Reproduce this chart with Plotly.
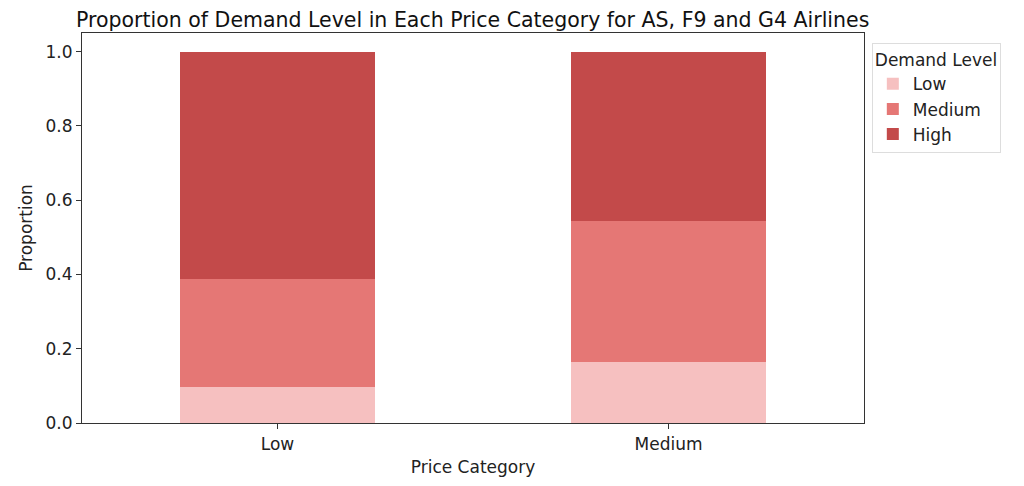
import plotly.graph_objs as go

# Proportion of each demand level within each price category
price_categories = ["Low", "Medium"]
demand_levels = ["Low", "Medium", "High"]
prop_low = [0.097, 0.164]
prop_medium = [0.292, 0.380]
prop_high = [0.611, 0.456]

colors = {"Low": "#f6c0c0", "Medium": "#e57775", "High": "#c34a4a"}
values = {"Low": prop_low, "Medium": prop_medium, "High": prop_high}

font_family = "DejaVu Sans"
text_color = "#222222"

data: list = []
for level in demand_levels:
    data.append(go.Bar(name=level, x=price_categories, y=values[level],
                       marker=dict(color=colors[level], line=dict(width=0))))

# the page body adds 8px around the figure, so the figure is 1008x470
layout = go.Layout(
    barmode="stack", bargap=0.5,
    width=1008, height=470,
    margin=dict(l=74, r=152, t=25, b=55),
    plot_bgcolor="white", paper_bgcolor="white",
    font=dict(family=font_family, size=17, color=text_color),
    title=dict(text="Proportion of Demand Level in Each Price Category for AS, F9 and G4 Airlines",
               x=0.461, xanchor="center", yref="container", y=1, yanchor="top",
               pad=dict(t=5, b=0), font=dict(size=20.5, color="#111111")),
    xaxis=dict(title=dict(text="Price Category", standoff=8, font=dict(size=17)),
               showline=True, linecolor="#333333", linewidth=1.2, mirror=True,
               ticks="outside", ticklen=5, tickcolor="#333333", tickfont=dict(size=17),
               range=[-0.5, 1.5], showgrid=False, automargin=False),
    yaxis=dict(title=dict(text="Proportion", standoff=8, font=dict(size=17)),
               showline=True, linecolor="#333333", linewidth=1.2, mirror=True,
               ticks="outside", ticklen=5, tickcolor="#333333", tickfont=dict(size=17),
               range=[0, 1.05], tickvals=[0, 0.2, 0.4, 0.6, 0.8, 1.0], tickformat=".1f",
               showgrid=False, zeroline=False, automargin=False),
    legend=dict(title=dict(text="Demand Level", font=dict(size=17)),
                x=1.01, xanchor="left", y=0.974, yanchor="top",
                bordercolor="#dddddd", borderwidth=1, bgcolor="white",
                font=dict(size=17), traceorder="normal"),
)

fig = go.Figure(data, layout)
fig.write_html("out.html")
